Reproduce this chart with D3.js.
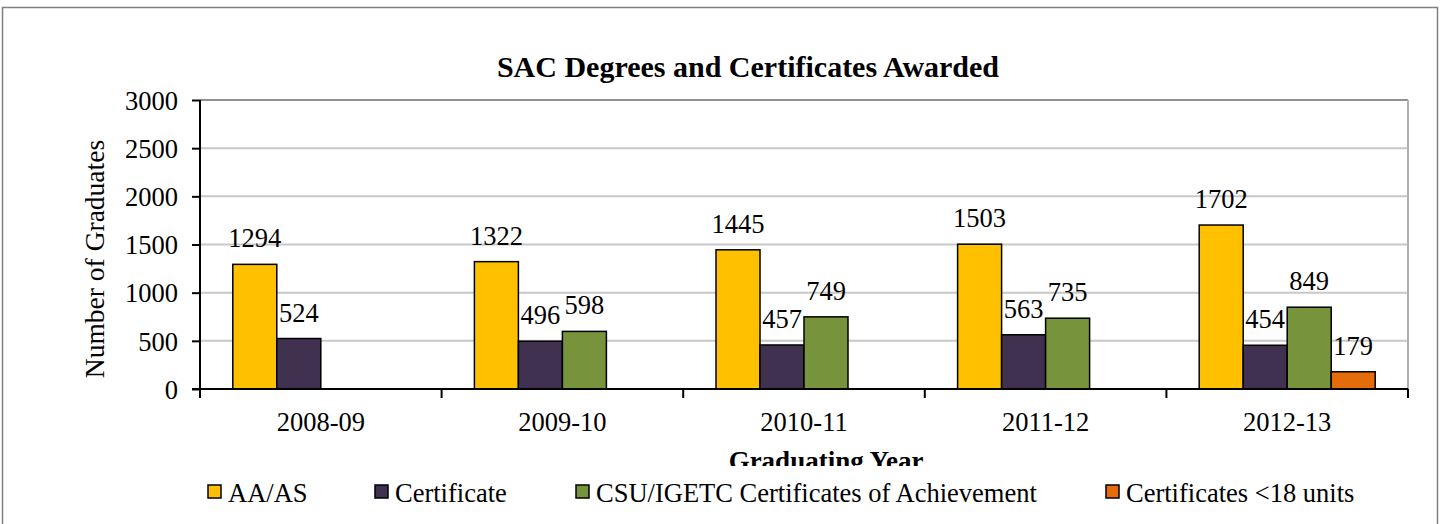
<!DOCTYPE html>
<html><head><meta charset="utf-8">
<script src="https://cdn.jsdelivr.net/npm/d3@7"></script>
</head><body style="margin:0">
<svg id="c" width="1443" height="524"></svg>
<script>
const years = ["2008-09","2009-10","2010-11","2011-12","2012-13"];
const seriesNames = ["AA/AS","Certificate","CSU/IGETC Certificates of Achievement","Certificates <18 units"];
const aaAs = [1294,1322,1445,1503,1702];
const certificate = [524,496,457,563,454];
const csuIgetc = [null,598,749,735,849];
const certUnder18 = [null,null,null,null,179];
const yTicks = [0,500,1000,1500,2000,2500,3000];
const colors = ["#FFC000","#403151","#77933C","#E46C0A"];
const FFS = "font-family:'Liberation Serif','Times New Roman',serif !important";

const svg = d3.select("#c");
const L=200,R=1408,T=100,B=389;
svg.append("rect").attr("x",2.5).attr("y",7.5).attr("width",1435).attr("height",530).attr("fill","#fff").attr("stroke","#808080").attr("stroke-width",1.5);

const x0 = d3.scaleBand().domain(years).range([L,R]).paddingInner(0).paddingOuter(0);
const y = d3.scaleLinear().domain([0,3000]).range([B,T]);

svg.append("g").selectAll("line").data(yTicks.filter(d=>d>0)).join("line")
  .attr("x1",L).attr("x2",R).attr("y1",d=>y(d)).attr("y2",d=>y(d))
  .attr("stroke",d=>d===3000?"#909090":"#C8C8C8").attr("stroke-width",2);
svg.append("line").attr("x1",R).attr("x2",R).attr("y1",T).attr("y2",B).attr("stroke","#B0B0B0").attr("stroke-width",2);

const series=[aaAs,certificate,csuIgetc,certUnder18];
const barW = 44;
series.forEach((vals,si)=>{
  const g=svg.append("g");
  const data=years.map((yr,i)=>({yr,v:vals[i]})).filter(d=>d.v!=null);
  const cx=d=>x0(d.yr)+x0.bandwidth()/2+(si-2)*barW;
  g.selectAll("rect").data(data).join("rect")
    .attr("x",cx).attr("width",barW).attr("y",d=>y(d.v)).attr("height",d=>y(0)-y(d.v))
    .attr("fill",colors[si]).attr("stroke","#000").attr("stroke-width",1.5);
  g.selectAll("text").data(data).join("text")
    .attr("x",d=>cx(d)+barW/2).attr("y",d=>y(d.v)-17).attr("text-anchor","middle")
    .attr("style",FFS).attr("font-size",26.5).attr("fill","#000").text(d=>d.v);
});

const ya=svg.append("g").attr("transform",`translate(${L},0)`)
  .call(d3.axisLeft(y).tickValues(yTicks).tickSize(8).tickPadding(14).tickFormat(d3.format("d")));
ya.selectAll("path,line").attr("stroke","#000").attr("stroke-width",2);
ya.select("path").attr("d",`M0,${T}V${B}`);
ya.selectAll("text").attr("font-size",26.5).attr("style",FFS).attr("fill","#000").attr("dy","0.35em");

const xa=svg.append("g").attr("transform",`translate(0,${B})`)
  .call(d3.axisBottom(x0).tickSize(0).tickPadding(23));
xa.select("path").attr("d",`M${L-8},0H${R}`).attr("stroke","#000").attr("stroke-width",2);
xa.selectAll("text").attr("font-size",26.5).attr("style",FFS).attr("fill","#000");
svg.append("g").selectAll("line").data(years.concat(["end"])).join("line")
  .attr("x1",(d,i)=>L+i*x0.bandwidth()).attr("x2",(d,i)=>L+i*x0.bandwidth())
  .attr("y1",B).attr("y2",B+9).attr("stroke","#000").attr("stroke-width",2);

svg.append("text").attr("x",748).attr("y",77).attr("text-anchor","middle").attr("style",FFS).attr("font-size",30).attr("font-weight","bold").text("SAC Degrees and Certificates Awarded");
svg.append("text").attr("transform","translate(104,259) rotate(-90)").attr("text-anchor","middle").attr("style",FFS).attr("font-size",27.5).text("Number of Graduates");
svg.append("defs").append("clipPath").attr("id","clipx").append("rect").attr("x",0).attr("y",0).attr("width",1443).attr("height",466);
svg.append("text").attr("x",826).attr("y",470).attr("text-anchor","middle").attr("style",FFS).attr("font-size",27).attr("font-weight","bold").attr("clip-path","url(#clipx)").text("Graduating Year");

const legX=[208,375,576,1106];
const lg=svg.append("g").selectAll("g").data(seriesNames).join("g").attr("transform",(d,i)=>`translate(${legX[i]},485)`);
lg.append("rect").attr("width",13).attr("height",13).attr("fill",(d,i)=>colors[i]).attr("stroke","#000").attr("stroke-width",1.5);
lg.append("text").attr("x",20).attr("y",17).attr("style",FFS).attr("font-size",26.5).text(d=>d);
</script>
</body></html>
